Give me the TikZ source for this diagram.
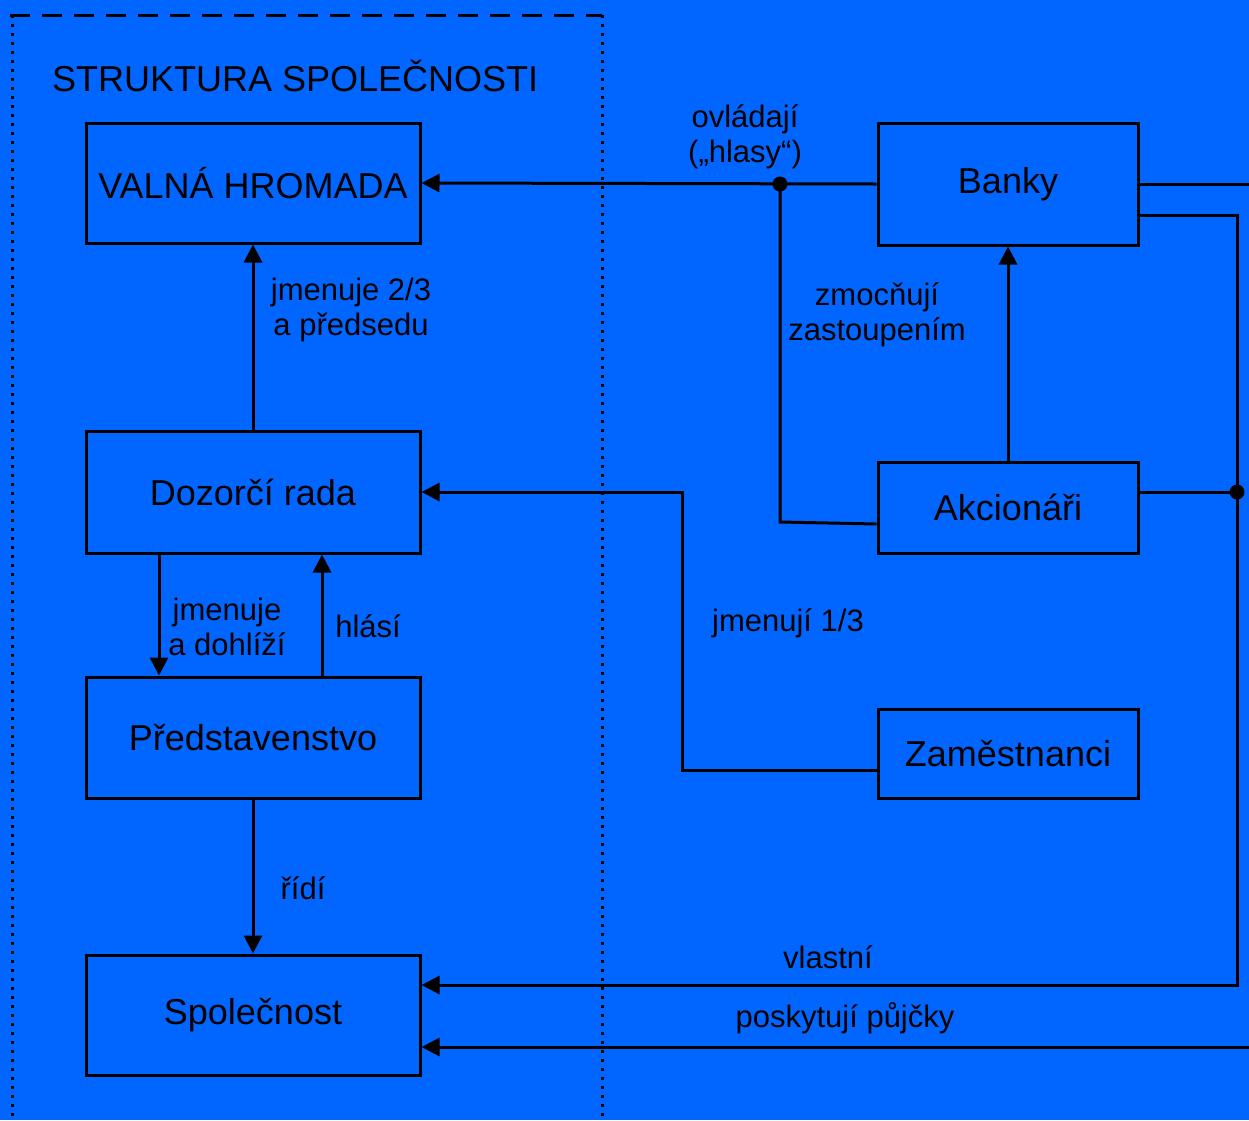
\documentclass[tikz,border=0pt]{standalone}
\usepackage{fontspec}
\setmainfont{Liberation Sans}
\usetikzlibrary{arrows.meta}
\definecolor{bg}{RGB}{0,102,255}
\begin{document}
\begin{tikzpicture}[x=1pt,y=1pt,
  box/.style={draw=black, line width=3pt, inner sep=0pt, font=\fontsize{36}{40}\selectfont},
  lbl/.style={inner sep=0pt, align=center, font=\fontsize{31}{35}\selectfont},
  conn/.style={draw=black, line width=3pt},
  arr/.style={conn, -{Triangle[length=18pt,width=18pt]}},
  jdot/.style={circle, fill=black, inner sep=0pt, minimum size=15pt}]
\fill[bg] (0,0) rectangle (1249,-1120);
\useasboundingbox (0,0) rectangle (1249,-1120);
% frame
\draw[line width=3pt, dash pattern=on 20pt off 12pt] (10,-15) -- (602,-15);
\draw[line width=3pt, dash pattern=on 3pt off 6pt] (12,-15) -- (12,-1120);
\draw[line width=3pt, dash pattern=on 3pt off 6pt] (602,-15) -- (602,-1120);
\node[inner sep=0pt, anchor=west, font=\fontsize{36}{40}\selectfont] (title) at (52,-76) {STRUKTURA SPOLEČNOSTI};
% boxes
\node[box, minimum width=334pt, minimum height=120pt] (vh) at (253,-183) {VALNÁ HROMADA};
\node[box, minimum width=334pt, minimum height=122pt] (dr) at (253,-492) {Dozorčí rada};
\node[box, minimum width=334pt, minimum height=121pt] (pr) at (253,-737.5) {Představenstvo};
\node[box, minimum width=334pt, minimum height=120pt] (sp) at (253,-1015) {Společnost};
\node[box, minimum width=260pt, minimum height=122pt] (ba) at (1008,-184) {Banky};
\node[box, minimum width=260pt, minimum height=91pt] (ak) at (1008,-507.5) {Akcionáři};
\node[box, minimum width=260pt, minimum height=89pt] (za) at (1008,-753.5) {Zaměstnanci};
% coordinates
\node[jdot] (j1) at (780,-184) {};
\node[jdot] (j2) at (1237,-492) {};
\coordinate (e1) at (1249,-184);
\coordinate (e2) at (1249,-1047);
% connectors
\draw[arr] (ba.west) -- (vh.east);
\draw[conn] (j1.center) -- (780,-522) -- (ak.west |- 0,-524);
\draw[arr] (ak.north) -- (ba.south);
\draw[conn] (ba.east) -- (e1);
\draw[arr] (ba.east |- 0,-215) -| (1237,-985) -- (sp.east |- 0,-985);
\draw[conn] (ak.east |- j2) -- (j2.center);
\draw[arr] (za.west |- 0,-770) -| (682,-492) -- (dr.east);
\draw[arr] (e2) -- (sp.east |- e2);
\draw[arr] (dr.south -| 159,0) -- (pr.north -| 159,0);
\draw[arr] (pr.north -| 322,0) -- (dr.south -| 322,0);
\draw[arr] (dr.north) -- (vh.south);
\draw[arr] (pr.south) -- (sp.north);
% labels
\node[lbl] (l1) at (745,-137) {ovládají\\(„hlasy“)};
\node[lbl] (l2) at (351,-310) {jmenuje 2/3\\a předsedu};
\node[lbl] (l3) at (877,-315) {zmocňují\\zastoupením};
\node[lbl] (l4) at (227,-627) {jmenuje\\a dohlíží};
\node[lbl] (l5) at (368,-626) {hlásí};
\node[lbl] (l6) at (788,-623) {jmenují 1/3};
\node[lbl] (l7) at (303,-888) {řídí};
\node[lbl] (l8) at (828,-957) {vlastní};
\node[lbl] (l9) at (845,-1018) {poskytují půjčky};
\end{tikzpicture}
\end{document}
